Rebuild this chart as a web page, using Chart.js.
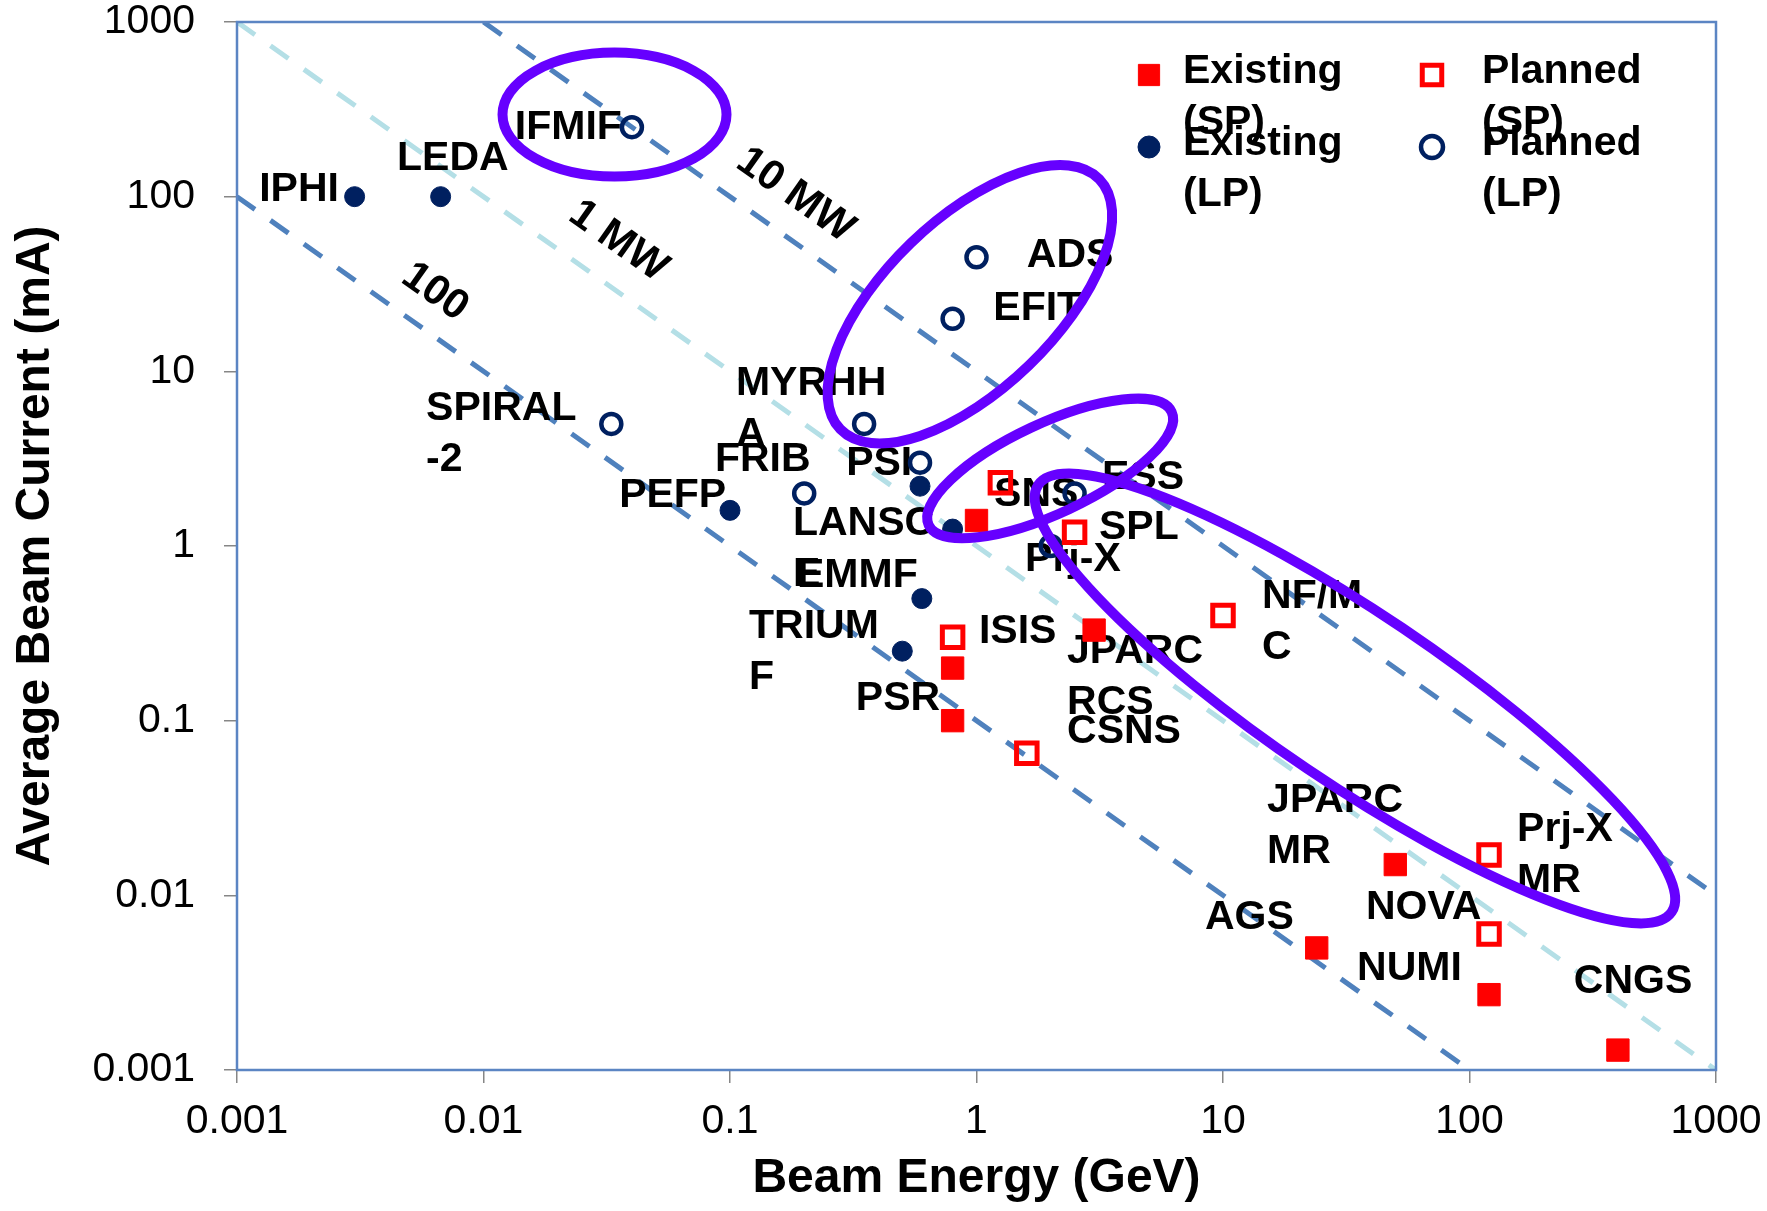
<!DOCTYPE html>
<html>
<head>
<meta charset="utf-8">
<title>Beam power chart</title>
<script src="https://cdn.jsdelivr.net/npm/chart.js@4.4.1/dist/chart.umd.min.js"></script>
<style>
  html, body { margin: 0; padding: 0; background: #ffffff; }
  #wrap { width: 1767px; height: 1211px; position: relative; }
</style>
</head>
<body>
<div id="wrap"><canvas id="chart"></canvas></div>
<script>
const FONT = "'Liberation Sans', Arial, sans-serif";

// axis ticks (both axes log, 0.001 .. 1000)
const AXIS_TICKS = [0.001, 0.01, 0.1, 1, 10, 100, 1000];
const AXIS_TICK_LABELS = ['0.001', '0.01', '0.1', '1', '10', '100', '1000'];

// Existing short pulse (SP)
const EXISTING_SP_NAMES = ['SNS', 'ISIS', 'PSR', 'JPARC RCS', 'JPARC MR', 'AGS', 'NUMI', 'CNGS'];
const EXISTING_SP_ENERGY = [1, 0.8, 0.8, 3, 50, 24, 120, 400];
const EXISTING_SP_CURRENT = [1.4, 0.2, 0.1, 0.33, 0.015, 0.005, 0.0027, 0.0013];

// Planned short pulse (SP)
const PLANNED_SP_NAMES = ['SNS upgrade', 'SPL', 'ISIS upgrade', 'CSNS', 'NF/MC', 'Prj-X MR', 'NOVA'];
const PLANNED_SP_ENERGY = [1.25, 2.5, 0.8, 1.6, 10, 120, 120];
const PLANNED_SP_CURRENT = [2.3, 1.2, 0.3, 0.065, 0.4, 0.017, 0.006];

// Existing long pulse (LP)
const EXISTING_LP_NAMES = ['IPHI', 'LEDA', 'PEFP', 'PSI', 'LANSCE', 'EMMF', 'TRIUMF'];
const EXISTING_LP_ENERGY = [0.003, 0.0067, 0.1, 0.59, 0.8, 0.6, 0.5];
const EXISTING_LP_CURRENT = [100, 100, 1.6, 2.2, 1.25, 0.5, 0.25];

// Planned long pulse (LP)
const PLANNED_LP_NAMES = ['IFMIF', 'ADS', 'EFIT', 'SPIRAL-2', 'MYRRHA', 'FRIB', 'PSI upgrade', 'ESS', 'Prj-X'];
const PLANNED_LP_ENERGY = [0.04, 1, 0.8, 0.033, 0.35, 0.2, 0.59, 2.5, 2];
const PLANNED_LP_CURRENT = [250, 45, 20, 5, 5, 2, 3, 2, 1];

// constant beam power lines (E * I)
const POWER_LABELS = ['100', '1 MW', '10 MW'];
const POWER_START_ENERGY = [0.001, 0.001, 0.01];
const POWER_START_CURRENT = [100, 1000, 1000];
const POWER_END_ENERGY = [100, 1000, 1000];
const POWER_END_CURRENT = [0.001, 0.001, 0.01];
const POWER_LABEL_ENERGY = [0.00635, 0.0352, 0.184];
const POWER_LABEL_CURRENT = [28.4, 55.6, 102];

// facility labels, anchored at their left / middle in data units
const LABEL_TEXT = [
  ['IPHI'], ['LEDA'], ['IFMIF'], ['SPIRAL', '-2'], ['ADS'], ['EFIT'], ['MYRHH', 'A'],
  ['FRIB'], ['PSI'], ['PEFP'], ['LANSC', 'E'], ['EMMF'], ['TRIUM', 'F'], ['ISIS'],
  ['PSR'], ['SNS'], ['ESS'], ['SPL'], ['Prj-X'], ['JPARC', 'RCS'], ['CSNS'],
  ['NF/M', 'C'], ['JPARC', 'MR'], ['Prj-X', 'MR'], ['NOVA'], ['AGS'], ['NUMI'], ['CNGS']
];
const LABEL_ENERGY = [
  0.00123, 0.00446, 0.0134, 0.00585, 1.6, 1.17, 0.1057,
  0.0869, 0.296, 0.0355, 0.180, 0.187, 0.1194, 1.023,
  0.324, 1.178, 3.23, 3.14, 1.574, 2.33, 2.33,
  14.4, 15.1, 156, 38.0, 8.45, 35.0, 265
];
const LABEL_CURRENT = [
  110, 164, 247, 6.14, 46, 22.7, 8.54,
  3.13, 2.97, 1.95, 1.35, 0.678, 0.346, 0.324,
  0.1337, 1.97, 2.47, 1.28, 0.837, 0.248, 0.0865,
  0.514, 0.0348, 0.0237, 0.00848, 0.00743, 0.00379, 0.00319
];

// highlight ellipses: centre in data units
const ELLIPSE_ENERGY = [0.034, 0.94, 1.99, 34.3];
const ELLIPSE_CURRENT = [295, 24.2, 2.78, 0.134];
// ellipse shape in pixels (semi axes, rotation in degrees)
const ELLIPSE_SHAPE = [
  { rx: 112, ry: 62, rot: 0 },
  { rx: 180, ry: 85, rot: -44 },
  { rx: 134, ry: 45, rot: -25 },
  { rx: 382, ry: 85, rot: 34 }
];

const NAVY = '#002060';
const RED = '#ff0000';
const LINE_GAP = 51;

function points(xs, ys) {
  return xs.map((v, i) => ({ x: v, y: ys[i] }));
}

const powerDatasets = POWER_LABELS.map((label, i) => ({
  label: label,
  isPower: true,
  data: [
    { x: POWER_START_ENERGY[i], y: POWER_START_CURRENT[i] },
    { x: POWER_END_ENERGY[i], y: POWER_END_CURRENT[i] }
  ],
  showLine: true,
  borderColor: i === 1 ? '#b4dfe6' : '#4f81bd',
  borderWidth: 5,
  borderDash: [22, 19],
  borderCapStyle: 'butt',
  pointRadius: 0,
  order: 1
}));

const markerDatasets = [
  {
    label: 'Existing\n(SP)',
    data: points(EXISTING_SP_ENERGY, EXISTING_SP_CURRENT),
    pointStyle: 'rect', pointRadius: 15.8, borderWidth: 1,
    backgroundColor: RED, borderColor: RED, order: 0
  },
  {
    label: 'Planned\n(SP)',
    data: points(PLANNED_SP_ENERGY, PLANNED_SP_CURRENT),
    pointStyle: 'rect', pointRadius: 14.5, borderWidth: 5,
    backgroundColor: 'rgba(0,0,0,0)', borderColor: RED, order: 0
  },
  {
    label: 'Existing\n(LP)',
    data: points(EXISTING_LP_ENERGY, EXISTING_LP_CURRENT),
    pointStyle: 'circle', pointRadius: 10, borderWidth: 1,
    backgroundColor: NAVY, borderColor: NAVY, order: 0
  },
  {
    label: 'Planned\n(LP)',
    data: points(PLANNED_LP_ENERGY, PLANNED_LP_CURRENT),
    pointStyle: 'circle', pointRadius: 10, borderWidth: 4.5,
    backgroundColor: 'rgba(0,0,0,0)', borderColor: NAVY, order: 0
  }
];

function drawLabels(chart) {
  const { ctx, scales: { x, y } } = chart;
  ctx.save();
  ctx.fillStyle = '#000000';
  ctx.font = `bold 41px ${FONT}`;
  ctx.textAlign = 'left';
  ctx.textBaseline = 'middle';
  LABEL_TEXT.forEach((lines, i) => {
    const px = x.getPixelForValue(LABEL_ENERGY[i]);
    const py = y.getPixelForValue(LABEL_CURRENT[i]);
    lines.forEach((t, k) => ctx.fillText(t, px, py + k * LINE_GAP));
  });

  // power labels follow the slope of the lines
  const angle = Math.atan2(
    y.getPixelForValue(0.1) - y.getPixelForValue(1),
    x.getPixelForValue(10) - x.getPixelForValue(1)
  );
  ctx.font = `bold 42px ${FONT}`;
  ctx.textAlign = 'center';
  POWER_LABELS.forEach((t, i) => {
    ctx.save();
    ctx.translate(x.getPixelForValue(POWER_LABEL_ENERGY[i]), y.getPixelForValue(POWER_LABEL_CURRENT[i]));
    ctx.rotate(angle);
    ctx.fillText(t, 0, 0);
    ctx.restore();
  });
  ctx.restore();
}

function drawFrame(chart) {
  const { ctx, chartArea: a } = chart;
  ctx.save();
  ctx.strokeStyle = '#5b85c3';
  ctx.lineWidth = 2.5;
  ctx.strokeRect(a.left, a.top, a.right - a.left, a.bottom - a.top);
  ctx.restore();
}

function drawEllipses(chart) {
  const { ctx, scales: { x, y } } = chart;
  ctx.save();
  ctx.strokeStyle = '#6600ff';
  ctx.lineWidth = 10;
  ELLIPSE_SHAPE.forEach((s, i) => {
    ctx.beginPath();
    ctx.ellipse(
      x.getPixelForValue(ELLIPSE_ENERGY[i]), y.getPixelForValue(ELLIPSE_CURRENT[i]),
      s.rx, s.ry, s.rot * Math.PI / 180, 0, Math.PI * 2
    );
    ctx.stroke();
  });
  ctx.restore();
}

function drawLegend(chart) {
  const { ctx, chartArea: a } = chart;
  const markerX = [a.right - 567, a.right - 284];
  const textX = [a.right - 533, a.right - 234];
  const rowY = [a.top + 50, a.top + 122];
  ctx.save();
  ctx.font = `bold 41px ${FONT}`;
  ctx.textAlign = 'left';
  ctx.textBaseline = 'middle';
  markerDatasets.forEach((ds, i) => {
    const col = i % 2;
    const row = Math.floor(i / 2);
    ctx.fillStyle = ds.backgroundColor;
    ctx.strokeStyle = ds.borderColor;
    ctx.lineWidth = ds.borderWidth;
    Chart.helpers.drawPoint(ctx, {
      pointStyle: ds.pointStyle, rotation: 0,
      radius: ds.pointStyle === 'rect' ? ds.pointRadius * 0.95 : ds.pointRadius + 1,
      borderWidth: ds.borderWidth
    }, markerX[col], rowY[row] + 3);
    ctx.fillStyle = '#000000';
    ds.label.split('\n').forEach((t, k) => ctx.fillText(t, textX[col], rowY[row] + k * LINE_GAP));
  });
  ctx.restore();
}

const annotations = {
  id: 'annotations',
  beforeDatasetsDraw(chart) {
    chart.$labelsDone = false;
  },
  beforeDatasetDraw(chart, args) {
    if (chart.data.datasets[args.index].isPower || chart.$labelsDone) return;
    drawLabels(chart);
    chart.$labelsDone = true;
  },
  afterDatasetsDraw(chart) {
    drawFrame(chart);
    drawEllipses(chart);
    drawLegend(chart);
  }
};

const axisTicks = s => { s.ticks = AXIS_TICKS.map(v => ({ value: v })); };

new Chart(document.getElementById('chart'), {
  type: 'scatter',
  data: { datasets: [...powerDatasets, ...markerDatasets] },
  options: {
    responsive: true,
    maintainAspectRatio: false,
    animation: false,
    layout: { padding: { top: 22, right: 51, left: 0, bottom: 0 } },
    plugins: {
      legend: { display: false },
      tooltip: { enabled: false }
    },
    scales: {
      x: {
        type: 'logarithmic',
        min: 0.001,
        max: 1000,
        afterBuildTicks: axisTicks,
        afterFit: s => { s.height = 141; s.paddingLeft = 0; s.paddingRight = 0; },
        ticks: {
          callback: (v, i) => AXIS_TICK_LABELS[i],
          font: { family: FONT, size: 41 },
          color: '#000000',
          padding: 14,
          maxRotation: 0,
          autoSkip: false
        },
        grid: { drawOnChartArea: false, tickLength: 13, color: '#868686', lineWidth: 1.5 },
        border: { display: false },
        title: {
          display: true,
          text: 'Beam Energy (GeV)',
          font: { family: FONT, size: 48, weight: 'bold' },
          color: '#000000',
          padding: { top: 0, bottom: 3 }
        }
      },
      y: {
        type: 'logarithmic',
        min: 0.001,
        max: 1000,
        afterBuildTicks: axisTicks,
        afterFit: s => { s.width = 237; s.paddingTop = 0; s.paddingBottom = 0; },
        ticks: {
          callback: (v, i) => AXIS_TICK_LABELS[i],
          font: { family: FONT, size: 41 },
          color: '#000000',
          padding: 29,
          autoSkip: false
        },
        grid: { drawOnChartArea: false, tickLength: 13, color: '#868686', lineWidth: 1.5 },
        border: { display: false },
        title: {
          display: true,
          text: 'Average Beam Current (mA)',
          font: { family: FONT, size: 48, weight: 'bold' },
          color: '#000000',
          padding: { top: 7, bottom: 0 }
        }
      }
    }
  },
  plugins: [annotations]
});
</script>
</body>
</html>
